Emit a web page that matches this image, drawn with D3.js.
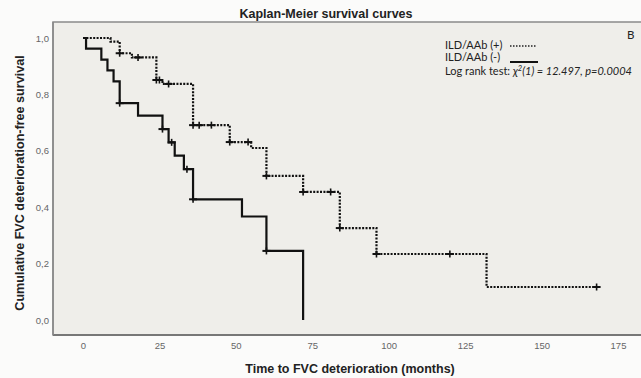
<!DOCTYPE html>
<html>
<head>
<meta charset="utf-8">
<script src="https://cdn.jsdelivr.net/npm/d3@7/dist/d3.min.js"></script>
<style>
  html, body { margin: 0; padding: 0; background: #fbfbfa; }
  svg { display: block; }
</style>
</head>
<body>
<svg id="chart" width="641" height="378"></svg>
<script>
// Kaplan-Meier estimates: event times (months) and survival after each step
const posTimes = [0, 9, 12, 16, 24, 26, 36, 48, 55, 60, 72, 84, 96, 132];
const posSurv  = [1, 0.987, 0.946, 0.931, 0.851, 0.837, 0.691, 0.631, 0.610, 0.511, 0.454, 0.326, 0.234, 0.117];
const posCensor = [12, 18, 24, 25, 28, 36, 38, 42, 48, 54, 60, 72, 81, 84, 96, 120, 168];
const posEnd = 168;

const negTimes = [0, 1, 6, 8, 10, 12, 18, 26, 28, 30, 33, 36, 52, 60, 72];
const negSurv  = [1, 0.962, 0.923, 0.885, 0.846, 0.769, 0.725, 0.677, 0.630, 0.583, 0.535, 0.428, 0.367, 0.245, 0];
const negCensor = [12, 26, 29, 34, 36, 60];
const negEnd = 72;

const xTicks = [0, 25, 50, 75, 100, 125, 150, 175];
const yTicks = [0, 0.2, 0.4, 0.6, 0.8, 1.0];

const svg = d3.select("#chart");
const x = d3.scaleLinear().domain([0, 175]).range([83, 618]);
const y = d3.scaleLinear().domain([0, 1]).range([320, 38]);

const frame = { left: 53, top: 22, bottom: 335, right: 646 };

// plot panel
svg.append("rect")
  .attr("x", frame.left).attr("y", frame.top)
  .attr("width", frame.right - frame.left).attr("height", frame.bottom - frame.top)
  .attr("fill", "#efeeea")
  .attr("stroke", "#8a8a8a").attr("stroke-width", 1.5);
svg.append("line")
  .attr("x1", frame.left).attr("x2", frame.right)
  .attr("y1", frame.bottom).attr("y2", frame.bottom)
  .attr("stroke", "#777").attr("stroke-width", 2);
svg.append("line")
  .attr("x1", frame.left).attr("x2", frame.left)
  .attr("y1", frame.top).attr("y2", frame.bottom)
  .attr("stroke", "#888").attr("stroke-width", 1.5);

// axes (labels only, no tick lines)
const xAxis = d3.axisBottom(x).tickValues(xTicks).tickSize(0).tickPadding(0)
  .tickFormat(d3.format("d"));
const gx = svg.append("g").attr("transform", `translate(0,${frame.bottom + 7})`).call(xAxis);
gx.select(".domain").remove();
gx.selectAll("text").attr("fill", "#666").attr("font-size", 9.5)
  .attr("font-family", "Liberation Sans, Arial, sans-serif");

const yAxis = d3.axisLeft(y).tickValues(yTicks).tickSize(0).tickPadding(0)
  .tickFormat(d => d3.format(".1f")(d).replace(".", ","));
const gy = svg.append("g").attr("transform", `translate(49,0)`).call(yAxis);
gy.select(".domain").remove();
gy.selectAll("text").attr("fill", "#666").attr("font-size", 9.5)
  .attr("font-family", "Liberation Sans, Arial, sans-serif");

// step curves
const stepLine = d3.line().x(d => x(d[0])).y(d => y(d[1])).curve(d3.curveStepAfter);

function stepPoints(times, surv, end) {
  const pts = times.map((t, i) => [t, surv[i]]);
  if (end > times[times.length - 1]) pts.push([end, surv[surv.length - 1]]);
  return pts;
}
function survAt(times, surv, t) {
  let s = 1;
  for (let i = 0; i < times.length; i++) if (times[i] <= t) s = surv[i];
  return s;
}

svg.append("path")
  .attr("d", stepLine(stepPoints(posTimes, posSurv, posEnd)))
  .attr("fill", "none").attr("stroke", "#111").attr("stroke-width", 2.2)
  .attr("stroke-dasharray", "2,1.4");

svg.append("path")
  .attr("d", stepLine(stepPoints(negTimes, negSurv, negEnd)))
  .attr("fill", "none").attr("stroke", "#111").attr("stroke-width", 2.2);

// censoring marks
function drawCensor(times, surv, censor) {
  const g = svg.append("g");
  censor.forEach(t => {
    const cx = x(t), cy = y(survAt(times, surv, t));
    g.append("line").attr("x1", cx - 4).attr("x2", cx + 4).attr("y1", cy).attr("y2", cy)
      .attr("stroke", "#111").attr("stroke-width", 2);
    g.append("line").attr("x1", cx).attr("x2", cx).attr("y1", cy - 3.5).attr("y2", cy + 3.5)
      .attr("stroke", "#111").attr("stroke-width", 1.6);
  });
}
drawCensor(posTimes, posSurv, posCensor);
drawCensor(negTimes, negSurv, negCensor);

// titles
svg.append("text").attr("x", 326).attr("y", 18).attr("text-anchor", "middle")
  .attr("font-family", "Liberation Sans, Arial, sans-serif").attr("font-weight", "bold")
  .attr("font-size", 12.5).attr("fill", "#222").text("Kaplan-Meier survival curves");

svg.append("text").attr("x", 350).attr("y", 373).attr("text-anchor", "middle")
  .attr("font-family", "Liberation Sans, Arial, sans-serif").attr("font-weight", "bold")
  .attr("font-size", 12.5).attr("fill", "#222").text("Time to FVC deterioration (months)");

svg.append("text").attr("transform", "translate(24,183) rotate(-90)").attr("text-anchor", "middle")
  .attr("font-family", "Liberation Sans, Arial, sans-serif").attr("font-weight", "bold")
  .attr("font-size", 12.6).attr("fill", "#222").text("Cumulative FVC deterioration-free survival");

// legend
const legFont = "Lato, Open Sans, sans-serif";
svg.append("text").attr("x", 445).attr("y", 49).attr("font-family", legFont)
  .attr("font-size", 11).attr("fill", "#222").text("ILD/AAb (+)");
svg.append("line").attr("x1", 510).attr("x2", 537).attr("y1", 46).attr("y2", 46)
  .attr("stroke", "#222").attr("stroke-width", 1.3).attr("stroke-dasharray", "1.5,1.5");
svg.append("text").attr("x", 445).attr("y", 61).attr("font-family", legFont)
  .attr("font-size", 11).attr("fill", "#222").text("ILD/AAb (-)");
svg.append("line").attr("x1", 510).attr("x2", 538).attr("y1", 62).attr("y2", 62)
  .attr("stroke", "#111").attr("stroke-width", 2);

const lr = svg.append("text").attr("x", 445).attr("y", 75).attr("font-family", legFont)
  .attr("font-size", 11).attr("fill", "#222");
lr.append("tspan").text("Log rank test: ");
lr.append("tspan").attr("font-style", "italic").text("χ");
lr.append("tspan").attr("font-style", "italic").attr("font-size", 7.5).attr("dy", -4).text("2");
lr.append("tspan").attr("font-style", "italic").attr("dy", 4).text("(1) = 12.497, p=0.0004");

svg.append("text").attr("x", 627).attr("y", 39).attr("font-family", legFont)
  .attr("font-size", 11.5).attr("fill", "#222").text("B");
</script>
</body>
</html>
